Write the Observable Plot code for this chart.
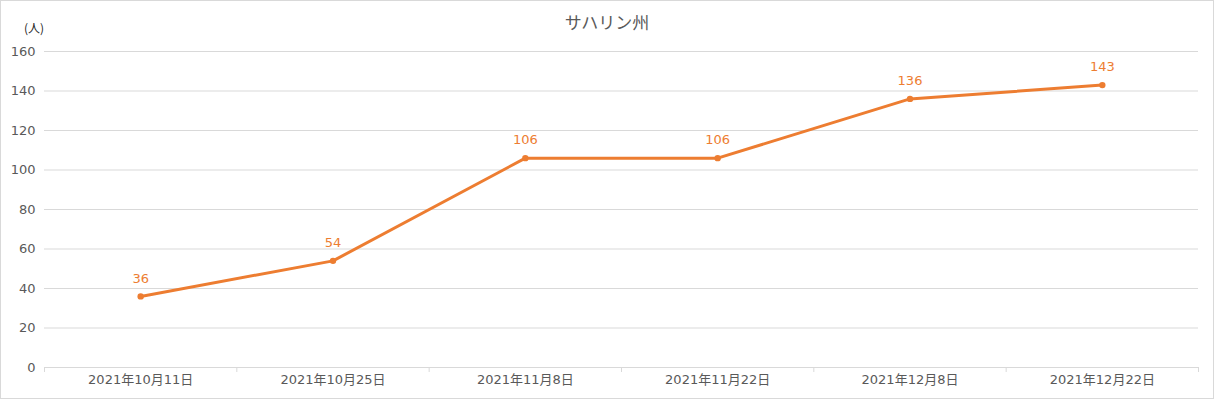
<!DOCTYPE html>
<html><head><meta charset="utf-8">
<script src="https://cdn.jsdelivr.net/npm/d3@7"></script>
<script src="https://cdn.jsdelivr.net/npm/@observablehq/plot@0.6"></script>
<style>
html,body{margin:0;padding:0;background:#fff;}
#wrap{position:relative;width:1214px;height:399px;box-sizing:border-box;border:1px solid #d9d9d9;overflow:hidden;font-family:"DejaVu Sans","Noto Sans CJK JP",sans-serif;}
#title{position:absolute;left:0;width:1212px;top:8px;text-align:center;font-size:17px;color:#595959;font-family:"Noto Sans CJK JP",sans-serif;}
#unit{position:absolute;left:23px;top:18px;font-size:12px;color:#262626;font-family:"Noto Sans CJK JP",sans-serif;}
#chart{position:absolute;left:0;top:0;}
</style></head>
<body><div id="wrap"><div id="title">サハリン州</div><div id="unit">(人)</div><div id="chart"></div></div>
<script>
const dates = ["2021年10月11日","2021年10月25日","2021年11月8日","2021年11月22日","2021年12月8日","2021年12月22日"];
const values = [36, 54, 106, 106, 136, 143];
const yTicks = [0, 20, 40, 60, 80, 100, 120, 140, 160];

const data = dates.map((d, i) => ({i, date: d, value: values[i]}));
const idx = dates.map((d, i) => i);
const bounds = [-0.5, ...idx.map(i => i + 0.5)];
const orange = "#ED7D31";
const font = '"DejaVu Sans","Noto Sans CJK JP",sans-serif';

const chart = Plot.plot({
  width: 1212, height: 397,
  marginTop: 50, marginBottom: 31, marginLeft: 43, marginRight: 15,
  style: {fontFamily: font, fontSize: "13px", color: "#595959", background: "transparent", overflow: "visible"},
  x: {type: "linear", domain: [-0.5, dates.length - 0.5]},
  y: {domain: [0, 160]},
  marks: [
    Plot.gridY(yTicks, {stroke: "#d9d9d9", strokeOpacity: 1}),
    Plot.axisY({ticks: yTicks, tickSize: 0, tickPadding: 9, label: null, fill: "#595959", fontSize: 13}),
    Plot.ruleY([0], {stroke: "#d9d9d9"}),
    Plot.axisX({ticks: bounds, tickSize: 5, tickFormat: () => "", stroke: "#d9d9d9", label: null}),
    Plot.axisX({ticks: idx, tickSize: 0, tickPadding: 7, tickFormat: i => dates[i], label: null, fill: "#595959", fontSize: 13}),
    Plot.line(data, {x: "i", y: "value", stroke: orange, strokeWidth: 3}),
    Plot.dot(data, {x: "i", y: "value", fill: orange, r: 3.2}),
    Plot.text(data, {x: "i", y: "value", text: d => String(d.value), dy: -18, fill: orange, fontSize: 13})
  ]
});
document.getElementById("chart").appendChild(chart);
</script></body></html>
